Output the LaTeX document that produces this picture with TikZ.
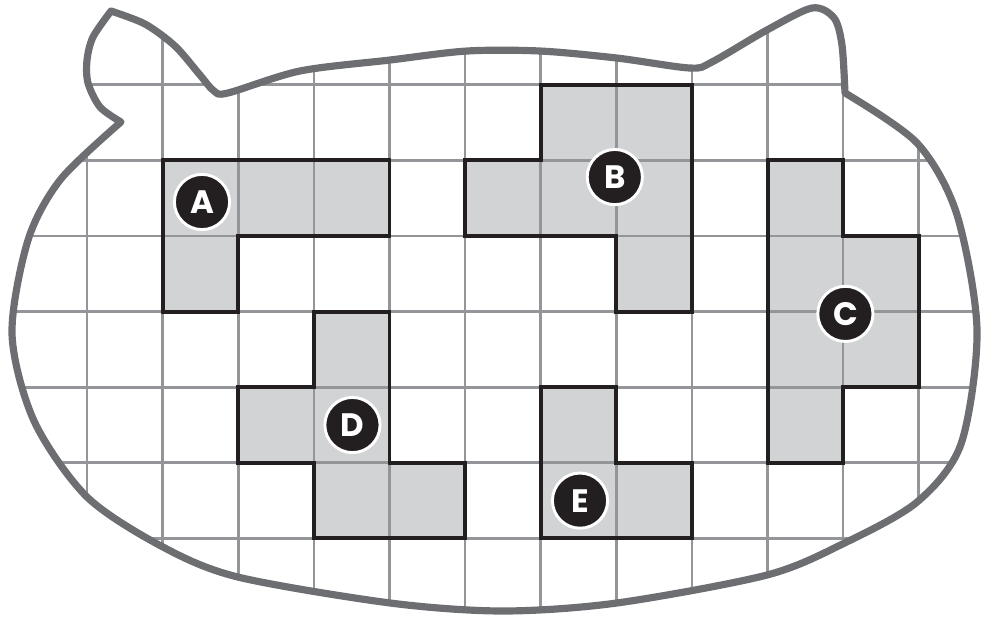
\documentclass[tikz,border=0pt]{standalone}
\usepackage{fontspec}
\newfontfamily\tagfont{Poppins}
\definecolor{Ink}{HTML}{231F20}
\definecolor{Tile}{HTML}{D1D3D4}
\definecolor{Rule}{HTML}{939598}
\definecolor{Rim}{HTML}{6D6E71}

% outline of the head, in grid units
\def\headline{plot[smooth] coordinates {(1.448,6.508) (1.171,6.706) (1.012,7.024) (0.999,7.328) (1.078,7.632) (1.316,7.976)}
  -- plot[smooth] coordinates {(1.316,7.976) (1.766,7.804) (2.163,7.513) (2.493,7.130) (2.679,6.918) (2.864,6.892)
     (3.816,7.183) (5.007,7.328) (6.025,7.447) (6.991,7.447) (8.009,7.354) (8.975,7.222) (9.266,7.302)
     (9.993,7.725) (10.589,8.016) (10.880,7.884) (10.985,7.526) (11.025,6.892)}
  -- plot[smooth] coordinates {(11.025,6.892) (11.978,6.230) (12.50,5.30) (12.771,3.757)
     (12.56,2.25) (11.978,1.481) (11.0,0.93) (9.993,0.516) (8.009,0.146) (6.5,0.04) (5.007,0.146)
     (2.996,0.489) (2.004,0.886) (0.999,1.548) (0.30,2.55) (0.007,3.70) (0.22,4.95) (0.65,5.75)
     (1.448,6.508)} -- cycle}

\begin{document}
\begin{tikzpicture}[
  piece/.style={draw=Ink,line width=1.5pt,line join=miter},
  tag/.style={circle,fill=Ink,draw=white,line width=1.1pt,minimum size=7.3mm,
   inner sep=0pt,text=white,font=\tagfont\bfseries\fontsize{12.2}{12}\selectfont}]
  \useasboundingbox (-0.152,-0.04) rectangle (12.824,8.122);
  % the five pieces
  \def\pieces{{(2,6) -- (5,6) -- (5,5) -- (3,5) -- (3,4) -- (2,4)},
    {(7,7) -- (9,7) -- (9,4) -- (8,4) -- (8,5) -- (6,5) -- (6,6) -- (7,6)},
    {(10,6) -- (11,6) -- (11,5) -- (12,5) -- (12,3) -- (11,3) -- (11,2) -- (10,2)},
    {(4,4) -- (5,4) -- (5,2) -- (6,2) -- (6,1) -- (4,1) -- (4,2) -- (3,2) -- (3,3) -- (4,3)},
    {(7,3) -- (8,3) -- (8,2) -- (9,2) -- (9,1) -- (7,1)}}
  \foreach \shape in \pieces
    \fill[Tile] \shape -- cycle;
  \begin{scope}
    \clip \headline;
    \draw[Rule,line width=1pt] (-1,-1) grid (14,9);
  \end{scope}
  \foreach \shape in \pieces
    \draw[piece] \shape -- cycle;
  \draw[Rim,line width=2.7pt,line join=round] \headline;
  \node[tag] (A) at (2.52,5.45) {A};
  \node[tag] (B) at (7.98,5.78) {B};
  \node[tag] (C) at (11.03,3.97) {C};
  \node[tag] (D) at (4.51,2.50) {D};
  \node[tag] (E) at (7.52,1.50) {E};
\end{tikzpicture}
\end{document}
